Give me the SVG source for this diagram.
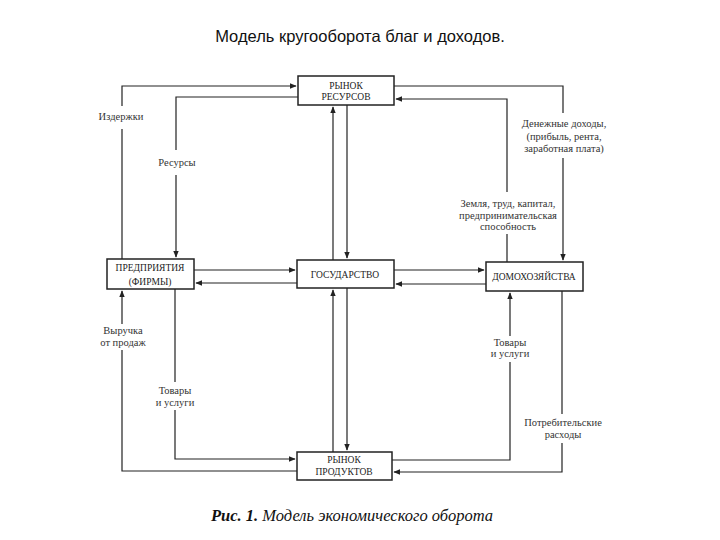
<svg xmlns="http://www.w3.org/2000/svg" width="720" height="540" viewBox="0 0 720 540">
<style>
.box{fill:#fff;stroke:#222;stroke-width:1.5}
.bt{font-family:"Liberation Serif",serif;font-size:9.5px;fill:#222;text-anchor:middle}
.lb{font-family:"Liberation Serif",serif;font-size:10.5px;fill:#333;text-anchor:middle}
.c{fill:none;stroke:#222;stroke-width:1.2}
</style>
<defs>
<marker id="a" viewBox="0 0 10 10" refX="9" refY="5" markerWidth="7" markerHeight="7" markerUnits="userSpaceOnUse" orient="auto">
<path d="M0,1 L10,5 L0,9 Z" fill="#222"/>
</marker>
</defs>
<rect width="720" height="540" fill="#fff"/>
<text x="360" y="42" font-family="Liberation Sans, sans-serif" font-size="16.5" fill="#111" text-anchor="middle">Модель кругооборота благ и доходов.</text>
<g id="connectors">
<path class="c" d="M122,259 V129 M122,106 V86 H296" marker-end="url(#a)"/>
<path class="c" d="M298,97 H176 V150 M176,175 V257" marker-end="url(#a)"/>
<path class="c" d="M394,86 H563 V113 M563,158 V260" marker-end="url(#a)"/>
<path class="c" d="M507,262 V234 M507,192 V99 H396" marker-end="url(#a)"/>
<path class="c" d="M333,260 V107" marker-end="url(#a)"/>
<path class="c" d="M347,105 V258" marker-end="url(#a)"/>
<path class="c" d="M333,452 V290" marker-end="url(#a)"/>
<path class="c" d="M347,288 V450" marker-end="url(#a)"/>
<path class="c" d="M194,270 H295" marker-end="url(#a)"/>
<path class="c" d="M297,283 H196" marker-end="url(#a)"/>
<path class="c" d="M394,270 H484" marker-end="url(#a)"/>
<path class="c" d="M486,284 H396" marker-end="url(#a)"/>
<path class="c" d="M297,471 H122 V350 M122,324 V291" marker-end="url(#a)"/>
<path class="c" d="M175,289 V382 M175,410 V459 H295" marker-end="url(#a)"/>
<path class="c" d="M392,460 H510 V362 M510,336 V293" marker-end="url(#a)"/>
<path class="c" d="M562,291 V414 M562,443 V472 H394" marker-end="url(#a)"/>
</g>
<g id="labels">
<text class="lb" x="121" y="120">Издержки</text>
<text class="lb" x="177" y="166">Ресурсы</text>
<text class="lb" x="564" y="127">Денежные доходы,</text>
<text class="lb" x="564" y="140">(прибыль, рента,</text>
<text class="lb" x="564" y="152">заработная плата)</text>
<text class="lb" x="508" y="207">Земля, труд, капитал,</text>
<text class="lb" x="508" y="219">предпринимательская</text>
<text class="lb" x="508" y="230">способность</text>
<text class="lb" x="123" y="334">Выручка</text>
<text class="lb" x="123" y="346">от продаж</text>
<text class="lb" x="175" y="394">Товары</text>
<text class="lb" x="175" y="406">и услуги</text>
<text class="lb" x="510" y="346">Товары</text>
<text class="lb" x="510" y="357">и услуги</text>
<text class="lb" x="563" y="426">Потребительские</text>
<text class="lb" x="563" y="438">расходы</text>
</g>
<g id="rynok-resursov">
<rect class="box" x="298" y="76" width="96" height="29"/>
<text class="bt" x="346" y="89">РЫНОК</text>
<text class="bt" x="346" y="100">РЕСУРСОВ</text>
</g>
<g id="predpriyatiya">
<rect class="box" x="107" y="259" width="87" height="30"/>
<text class="bt" x="150" y="271">ПРЕДПРИЯТИЯ</text>
<text class="bt" x="150" y="285">(ФИРМЫ)</text>
</g>
<g id="gosudarstvo">
<rect class="box" x="297" y="260" width="97" height="28"/>
<text class="bt" x="345" y="278">ГОСУДАРСТВО</text>
</g>
<g id="domohozyaystva">
<rect class="box" x="486" y="262" width="97" height="29"/>
<text class="bt" x="534" y="280">ДОМОХОЗЯЙСТВА</text>
</g>
<g id="rynok-produktov">
<rect class="box" x="297" y="452" width="95" height="28"/>
<text class="bt" x="344" y="463">РЫНОК</text>
<text class="bt" x="344" y="475">ПРОДУКТОВ</text>
</g>
<text x="352" y="521" font-family="Liberation Serif, serif" font-size="16.5" font-style="italic" fill="#111" text-anchor="middle"><tspan font-weight="bold">Рис. 1.</tspan> Модель экономического оборота</text>
</svg>
